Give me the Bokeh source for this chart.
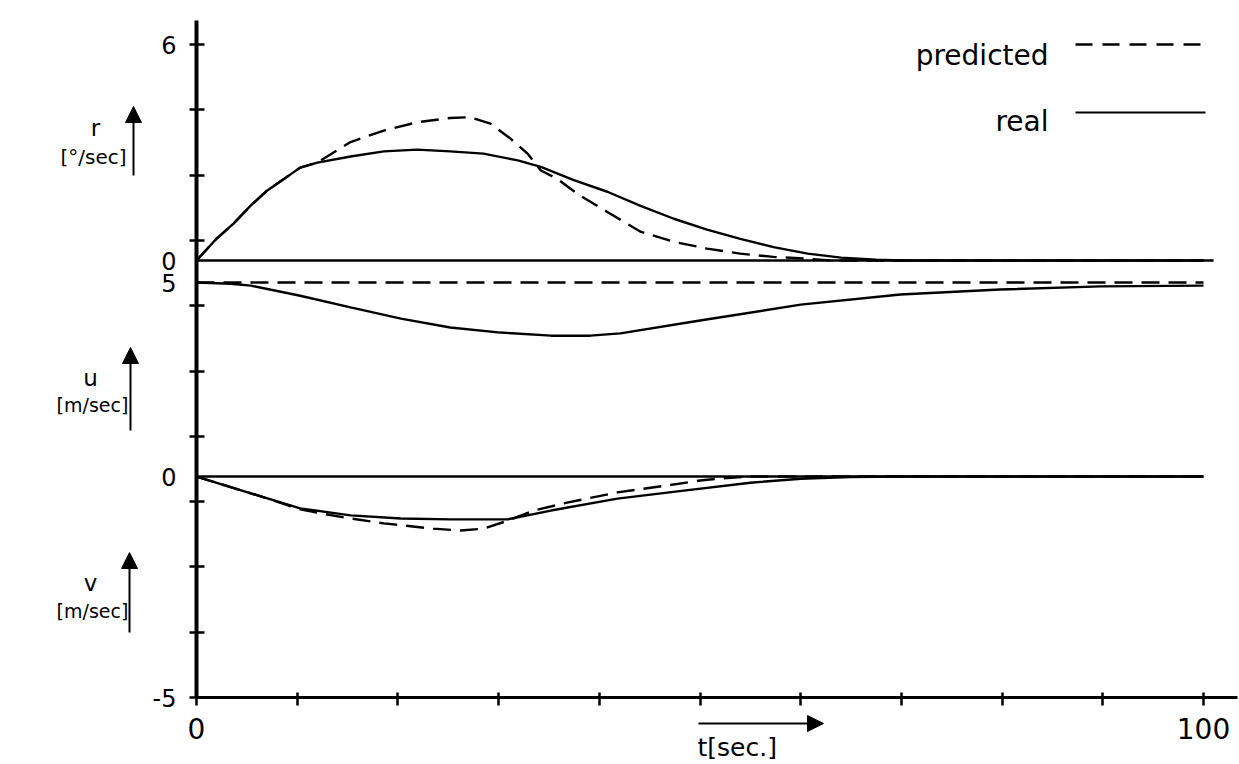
from bokeh.plotting import figure
from bokeh.models import (Range1d, FixedTicker, Label, Arrow, NormalHead,
                          CustomJSTickFormatter)
from bokeh.core.properties import value
from bokeh.embed import file_html
from bokeh.resources import INLINE

# ---------------------------------------------------------------- data
# yaw rate r [deg/s]
t_r_real = [0, 2, 3.7, 5.4, 7, 10.3, 12, 15.3, 18.6, 21.9, 25.2, 28.5, 31.9,
            34.2, 37.4, 40.8, 44.1, 47.4, 50.7, 54, 57.3, 60.7, 64, 67.5, 70, 100]
r_real = [0, 0.61, 1.03, 1.53, 1.94, 2.58, 2.72, 2.89, 3.03, 3.08, 3.03, 2.97, 2.78,
          2.60, 2.24, 1.91, 1.52, 1.16, 0.86, 0.60, 0.37, 0.19, 0.08, 0.02, 0, 0]
t_r_pred = [0, 2, 3.7, 5.4, 7, 10.3, 12, 15.3, 18.6, 21.9, 25.2, 27.2, 29.2, 31.2,
            32.9, 34.2, 35.8, 38.1, 40.8, 44.1, 47.4, 50.7, 54, 57.3, 60.7, 63, 100]
r_pred = [0, 0.61, 1.03, 1.53, 1.94, 2.58, 2.72, 3.29, 3.61, 3.84, 3.96, 3.98, 3.80,
          3.38, 2.96, 2.50, 2.27, 1.80, 1.35, 0.80, 0.52, 0.33, 0.19, 0.10, 0.05, 0, 0]

# surge speed u [m/s]
t_u_real = [0, 3.4, 5.4, 10.3, 15.3, 20.3, 25.2, 30.2, 35.2, 39.1, 42.1, 50.0,
            60.0, 69.9, 79.8, 89.8, 100]
u_real = [5.0, 4.97, 4.92, 4.66, 4.36, 4.07, 3.84, 3.71, 3.63, 3.63, 3.69, 4.02,
          4.43, 4.69, 4.82, 4.90, 4.92]
t_u_pred = [0, 100]
u_pred = [5.0, 5.0]

# sway speed v [m/s]
t_v_real = [0, 5.4, 10.3, 15.3, 20.3, 25.2, 30.9, 35.2, 41.8, 48.4, 55.0, 60.0,
            64.9, 69.9, 100]
v_real = [0, -0.38, -0.72, -0.88, -0.95, -0.97, -0.97, -0.77, -0.50, -0.32, -0.14,
          -0.05, -0.01, 0, 0]
t_v_pred = [0, 5.4, 10.3, 12.5, 15.3, 18.6, 23.5, 26.2, 28.5, 30.9, 33.5, 36.8,
            41.8, 46.8, 50.0, 51.7, 55.0, 100]
v_pred = [0, -0.38, -0.74, -0.84, -0.95, -1.06, -1.18, -1.22, -1.18, -1.00, -0.77,
          -0.59, -0.36, -0.20, -0.09, -0.05, 0, 0]

# reference (zero) lines
t_zero_r = [0, 101]
t_zero_v = [0, 100]
zero = [0, 0]

# time axis
t_ticks = list(range(0, 101, 10))
t_labelled = [0, 100]
t_labels = ["0", "100"]

# ---------------------------------------------------------------- layout
W, H = 1239, 764
X0_PX, Y0_PX = 196, 697          # pixel position of the axes' corner
PX_T, PX_DIV = 10.07, 65.3       # pixels per second / per vertical tick step
FL, FT = 50, 15                  # frame inset (left, top)
AXIS_TOP_PX, AXIS_RIGHT_PX = 20, 1237


def sx(px):
    return (px - X0_PX) / PX_T


def sy(py):
    return (Y0_PX - py) / PX_DIV


X_START, X_END = sx(FL), sx(W)
Y_START, Y_END = sy(H), sy(FT)
DIVS = list(range(11))                           # eleven equally spaced ticks
R0_DIV, U0_DIV, U5_DIV = 6.692, 3.384, 6.355     # where the sub-scales sit


def sub_range(val_a, div_a, val_b, div_b):
    k = (val_b - val_a) / (div_b - div_a)
    return Range1d(val_a + (Y_START - div_a) * k, val_a + (Y_END - div_a) * k)


FONT = "DejaVu Sans"

p = figure(width=W, height=H, output_backend="svg", toolbar_location=None,
           title=None, x_axis_location="above",
           x_range=Range1d(X_START, X_END), y_range=Range1d(Y_START, Y_END),
           min_border_left=FL, min_border_right=0,
           min_border_top=FT, min_border_bottom=0)
p.outline_line_color = None
p.xgrid.visible = False
p.ygrid.visible = False
p.background_fill_color = "white"
p.border_fill_color = "white"

p.extra_y_ranges = {
    "r": sub_range(0, R0_DIV, 6, 10),
    "u": sub_range(0, U0_DIV, 5, U5_DIV),
    "v": sub_range(0, U0_DIV, -5, 0),
}

# ---------------------------------------------------------------- axes
# time axis: drawn along the bottom of the lowest panel, crossing ticks only
xa = p.xaxis[0]
xa.fixed_location = 0
xa.bounds = (0, sx(AXIS_RIGHT_PX))
xa.ticker = FixedTicker(ticks=[], minor_ticks=t_ticks)
xa.axis_line_width = 3
xa.major_tick_in = 0
xa.major_tick_out = 0
xa.minor_tick_in = 8
xa.minor_tick_out = 5
xa.minor_tick_line_width = 2.5

p.text(x=t_labelled, y=[sy(728)] * len(t_labelled), text=t_labels,
       text_font=value(FONT), text_font_size="28px", text_align="center",
       text_baseline="middle", text_color="black")

label_pos = [0, U0_DIV, U5_DIV, R0_DIV, 10]
label_txt = ["-5", "0", "5", "0", "6"]
ya = p.yaxis[0]
ya.fixed_location = 0
ya.bounds = (0, sy(AXIS_TOP_PX))
ya.ticker = FixedTicker(ticks=label_pos, minor_ticks=DIVS)
ya.formatter = CustomJSTickFormatter(
    args=dict(pos=label_pos, txt=label_txt),
    code="const i = pos.findIndex(q => Math.abs(q - tick) < 1e-6); return i < 0 ? '' : txt[i];")
ya.axis_line_width = 4
ya.major_tick_in = 0
ya.major_tick_out = 0
ya.minor_tick_in = 8
ya.minor_tick_out = 7
ya.minor_tick_line_width = 2.5
ya.major_label_standoff = 13
ya.major_label_text_font = FONT
ya.major_label_text_font_size = "24px"
ya.major_label_text_color = "black"

# ---------------------------------------------------------------- curves
LW = 2.4
DASH = "18 9"
p.line(t_zero_r, zero, y_range_name="r", color="black", line_width=LW)
p.line(t_zero_v, zero, y_range_name="v", color="black", line_width=LW)

p.line(t_r_real, r_real, y_range_name="r", color="black", line_width=LW)
p.line(t_r_pred, r_pred, y_range_name="r", color="black", line_width=LW, line_dash=DASH)

p.line(t_u_pred, u_pred, y_range_name="u", color="black", line_width=LW, line_dash=DASH)
p.line(t_u_real, u_real, y_range_name="u", color="black", line_width=LW)

p.line(t_v_real, v_real, y_range_name="v", color="black", line_width=LW)
p.line(t_v_pred, v_pred, y_range_name="v", color="black", line_width=LW, line_dash=DASH)

# ---------------------------------------------------------------- legend
p.line([sx(1075), sx(1210)], [sy(44), sy(44)], color="black", line_width=LW, line_dash="17 10")
p.line([sx(1075), sx(1205)], [sy(112), sy(112)], color="black", line_width=1.8)


def label(px, py, text, size, align="center", baseline="middle"):
    p.add_layout(Label(x=sx(px), y=sy(py), text=text, text_font=FONT,
                       text_font_size=size, text_align=align,
                       text_baseline=baseline, text_color="black"))


label(1048, 55, "predicted", "28px", align="right", baseline="alphabetic")
label(1048, 121, "real", "28px", align="right", baseline="alphabetic")

# quantity names with upward arrows
label(95, 127, "r", "23px")
label(93, 156, "[°/sec]", "20px")
label(90, 377, "u", "23px")
label(92, 404, "[m/sec]", "19px")
label(90, 582, "v", "23px")
label(92, 610, "[m/sec]", "19px")
label(697, 747, "t[sec.]", "25px", align="left")


def arrow(x0, y0, x1, y1):
    p.add_layout(Arrow(end=NormalHead(size=16, fill_color="black", line_color="black"),
                       x_start=sx(x0), y_start=sy(y0), x_end=sx(x1), y_end=sy(y1),
                       line_width=2, line_color="black"))


arrow(133, 175, 133, 106)
arrow(130, 430, 130, 347)
arrow(129, 632, 129, 552)
arrow(698, 723, 823, 723)

open("out.html", "w").write(file_html(p, INLINE))
